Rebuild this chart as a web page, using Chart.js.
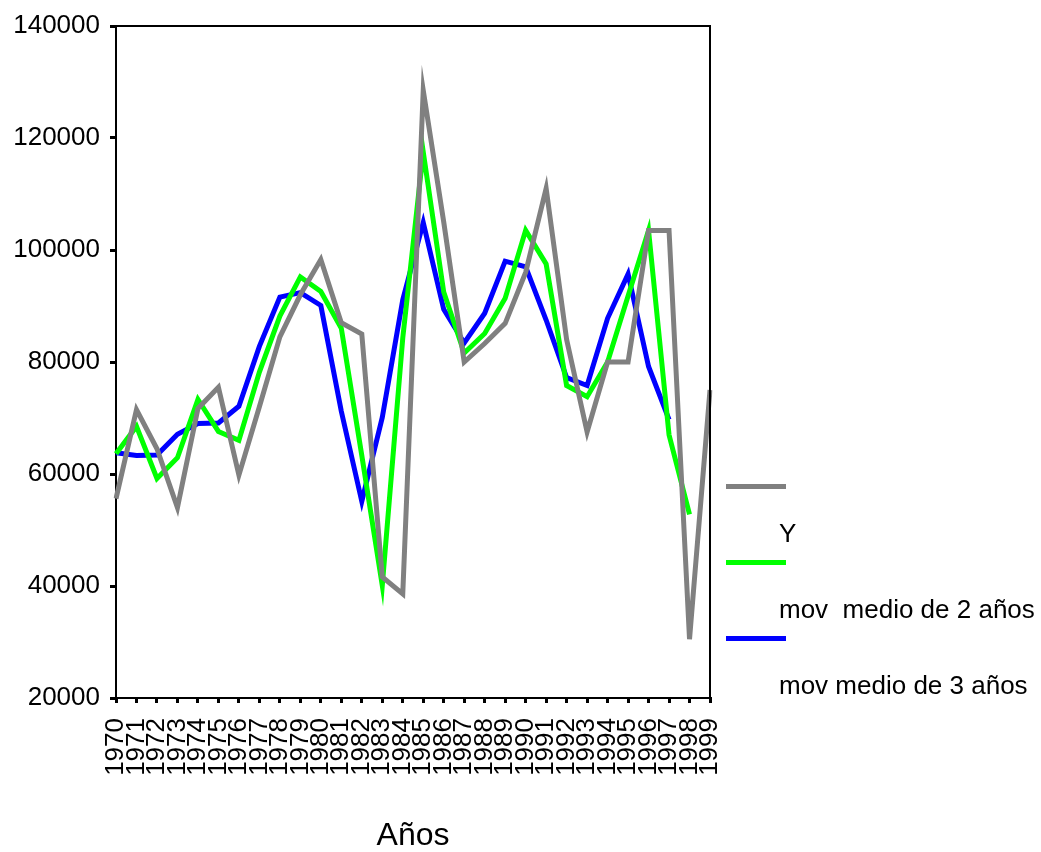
<!DOCTYPE html>
<html lang="es">
<head>
    <meta charset="UTF-8">
    <title>Años</title>
    <script src="https://cdn.jsdelivr.net/npm/chart.js"></script>
    <style>
        body { margin: 0; background: #fff; }
        #wrap { width: 1041px; height: 852px; }
    </style>
</head>
<body>
<div id="wrap"><canvas id="chart" width="1041" height="852"></canvas></div>
<script>
const years = ['1970','1971','1972','1973','1974','1975','1976','1977','1978','1979',
               '1980','1981','1982','1983','1984','1985','1986','1987','1988','1989',
               '1990','1991','1992','1993','1994','1995','1996','1997','1998','1999'];

// Y (serie original)
const serieY = [55600, 71500, 64500, 54000, 71700, 75500, 59800, 72000, 84500, 92000,
                98300, 87000, 85000, 41600, 38600, 128500, 105000, 80000, 83300, 86900,
                96000, 111000, 84000, 67500, 80000, 80000, 103500, 103500, 30500, 75000];

// media movil de 2 años
const movMedio2 = [63600, 68500, 59200, 62900, 73300, 67600, 66000, 78200, 88200, 95200,
                   92600, 86000, 63300, 40100, 84300, 117500, 92500, 81600, 85100, 91400,
                   103500, 97500, 75800, 73800, 80000, 91800, 103500, 67000, 52800, null];

// media movil de 3 años
const movMedio3 = [63800, 63300, 63400, 67100, 69000, 69100, 72100, 82800, 91600, 92400,
                   90100, 71200, 55100, 70100, 91100, 104900, 89400, 83400, 88700, 98000,
                   97000, 87500, 77200, 75800, 87800, 95700, 79200, 69700, null, null];

const yMin = 20000, yMax = 140000, yStep = 20000;

const FONT = '"Liberation Sans", Arial, sans-serif';

// sharp spikes, box round the plot and the odd legend on the right
const framePlugin = {
    id: 'frame',
    beforeDatasetsDraw(chart) {
        chart.ctx.save();
        chart.ctx.miterLimit = 12;
    },
    afterDatasetsDraw(chart) {
        const { ctx, chartArea: a } = chart;
        ctx.restore();
        ctx.save();
        ctx.strokeStyle = '#000';
        ctx.lineWidth = 2;
        ctx.beginPath();
        ctx.moveTo(a.left, a.top);
        ctx.lineTo(a.right, a.top);
        ctx.lineTo(a.right, a.bottom);
        ctx.stroke();
        ctx.restore();
    },
    afterDraw(chart) {
        const { ctx, chartArea: a } = chart;
        ctx.save();
        chart.data.datasets.forEach((ds, i) => {
            const ly = 486.5 + i * 76;
            ctx.strokeStyle = ds.borderColor;
            ctx.lineWidth = 5;
            ctx.beginPath();
            ctx.moveTo(a.right + 16, ly);
            ctx.lineTo(a.right + 76, ly);
            ctx.stroke();
            ctx.fillStyle = '#000';
            ctx.font = '26px ' + FONT;
            ctx.textAlign = 'left';
            ctx.textBaseline = 'alphabetic';
            ctx.fillText(ds.label, a.right + 69, ly + 55.5);
        });
        ctx.restore();
    }
};

const ctx = document.getElementById('chart').getContext('2d');
new Chart(ctx, {
    type: 'line',
    data: {
        labels: years,
        datasets: [
            { label: 'Y', data: serieY, borderColor: '#808080', order: 1 },
            { label: 'mov  medio de 2 años', data: movMedio2, borderColor: '#00ff00', order: 2 },
            { label: 'mov medio de 3 años', data: movMedio3, borderColor: '#0000ff', order: 3 }
        ]
    },
    options: {
        responsive: false,
        animation: false,
        layout: { padding: { top: 26, right: 331, left: 0, bottom: 0 } },
        elements: {
            line: { borderWidth: 5, tension: 0, borderJoinStyle: 'miter', fill: false },
            point: { radius: 0, hoverRadius: 0 }
        },
        plugins: {
            legend: { display: false },
            tooltip: { enabled: false }
        },
        scales: {
            x: {
                offset: false,
                afterFit: s => { s.height = 154; },
                border: { display: true, color: '#000', width: 2 },
                grid: { drawOnChartArea: false, drawTicks: true, tickLength: 5, color: '#000', lineWidth: 3 },
                ticks: {
                    autoSkip: false, minRotation: 90, maxRotation: 90, padding: 15,
                    color: '#000', font: { family: FONT, size: 26 }
                },
                title: {
                    display: true, text: 'Años', color: '#000',
                    font: { family: FONT, size: 32, lineHeight: 1 },
                    padding: { top: 0, bottom: 0 }
                }
            },
            y: {
                min: yMin, max: yMax,
                afterFit: s => { s.width = 116; },
                border: { display: true, color: '#000', width: 2 },
                grid: { drawOnChartArea: false, drawTicks: true, tickLength: 6, color: '#000', lineWidth: 3 },
                ticks: {
                    stepSize: yStep, padding: 10, color: '#000',
                    font: { family: FONT, size: 26 },
                    callback: v => String(v)
                }
            }
        }
    },
    plugins: [framePlugin]
});
</script>
</body>
</html>
